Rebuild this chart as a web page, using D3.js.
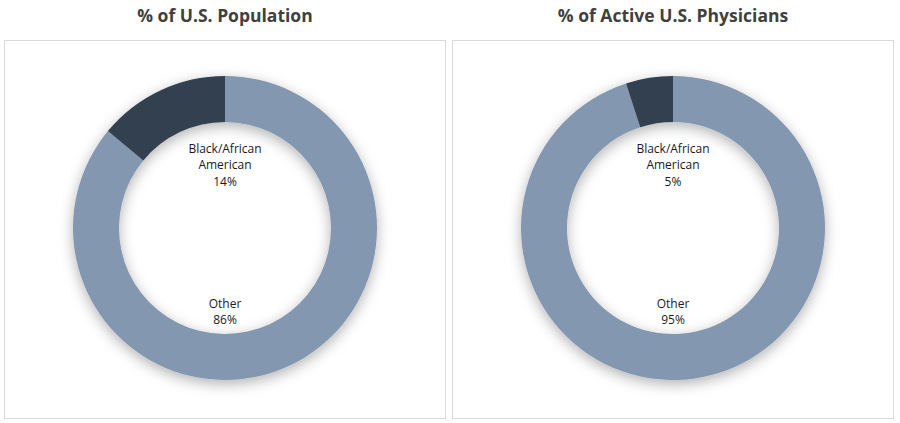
<!DOCTYPE html>
<html>
<head>
<meta charset="utf-8">
<script src="https://cdn.jsdelivr.net/npm/d3@7"></script>
<style>
  html, body { margin: 0; padding: 0; background: #fff; }
  svg { display: block; }
</style>
</head>
<body>
<svg id="chart"></svg>
<script>
// data
const charts = ['% of U.S. Population', '% of Active U.S. Physicians'];
const categories = ['Other', 'Black/African American'];
const populationValues = [86, 14];
const physicianValues = [95, 5];
const labelLines = [['Other'], ['Black/African', 'American']];

const width = 900, height = 423;
const color = d3.scaleOrdinal().domain(categories).range(['#8497B0', '#333F50']);

const svg = d3.select('#chart').attr('width', width).attr('height', height);

// soft shadow like the office chart
const defs = svg.append('defs');
const f = defs.append('filter').attr('id', 'shadow')
  .attr('x', '-20%').attr('y', '-20%').attr('width', '140%').attr('height', '140%');
f.append('feDropShadow').attr('dx', 0).attr('dy', 4).attr('stdDeviation', 7)
  .attr('flood-color', '#000').attr('flood-opacity', 0.3);

const panels = [
  { title: charts[0], values: populationValues, x0: 4.5, x1: 445.5 },
  { title: charts[1], values: physicianValues, x0: 452.5, x1: 893.5 },
];
const panelTop = 40.5, panelBottom = 418.5;
const outerR = 152, innerR = 106;

const pie = d3.pie().sort(null).value(d => d.value);
const arc = d3.arc().innerRadius(innerR).outerRadius(outerR);

panels.forEach(p => {
  const cx = (p.x0 + p.x1) / 2;
  const cy = 228;

  svg.append('text')
    .attr('x', cx).attr('y', 22)
    .attr('text-anchor', 'middle')
    .style('font-family', '"Open Sans", sans-serif')
    .style('font-weight', 700)
    .style('font-size', '17.5px')
    .attr('fill', '#404040')
    .text(p.title);

  svg.append('rect')
    .attr('x', p.x0).attr('y', panelTop)
    .attr('width', p.x1 - p.x0).attr('height', panelBottom - panelTop)
    .attr('fill', '#fff').attr('stroke', '#D9D9D9').attr('stroke-width', 1);

  const data = categories.map((c, i) => ({ name: c, value: p.values[i], lines: labelLines[i] }));
  const g = svg.append('g').attr('transform', `translate(${cx},${cy})`);

  g.append('g').attr('filter', 'url(#shadow)')
    .selectAll('path').data(pie(data)).join('path')
    .attr('d', arc)
    .attr('fill', d => color(d.data.name));

  // labels sit inside the hole: big slice below centre, small slice above
  const labelY = { 'Other': 84, 'Black/African American': -63 };
  const lineH = 16.5;
  data.forEach(d => {
    const lines = d.lines.concat([d.value + '%']);
    const t = g.append('text')
      .attr('text-anchor', 'middle')
      .style('font-family', '"Open Sans", sans-serif')
      .style('font-size', '12px')
      .attr('fill', '#1a1a1a');
    lines.forEach((l, i) => {
      t.append('tspan')
        .attr('x', 0)
        .attr('y', labelY[d.name] + (i - (lines.length - 1) / 2) * lineH + 4)
        .text(l);
    });
  });
});
</script>
</body>
</html>
